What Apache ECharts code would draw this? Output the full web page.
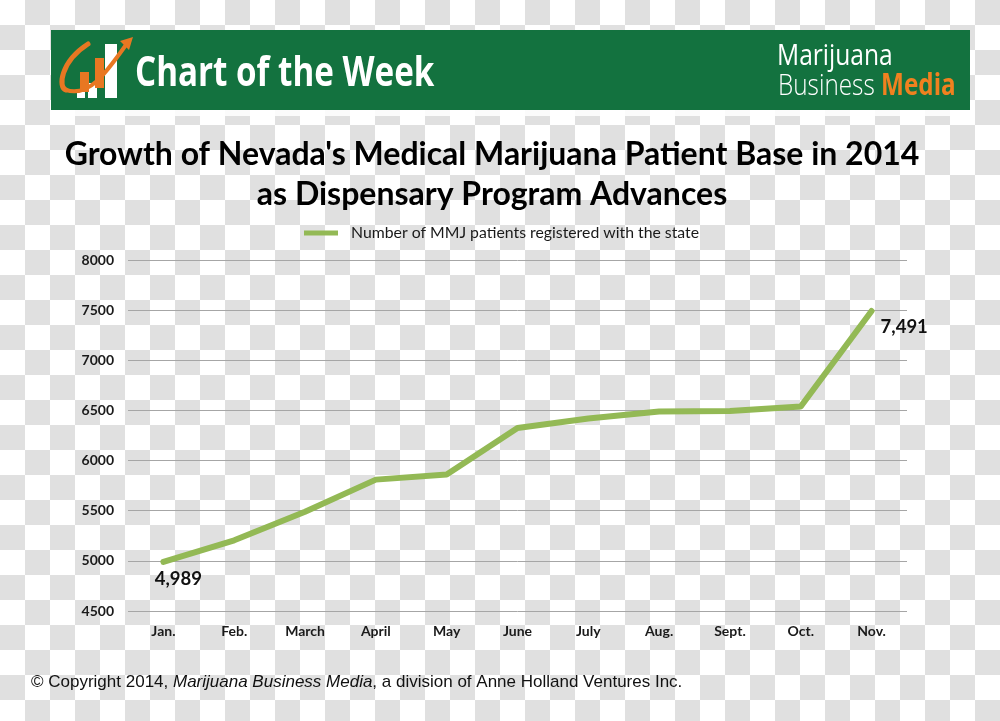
<!DOCTYPE html>
<html>
<head>
<meta charset="utf-8">
<script src="https://cdn.jsdelivr.net/npm/echarts@6/dist/echarts.min.js"></script>
<style>
html,body{margin:0;padding:0;}
body{width:1000px;height:721px;background:repeating-conic-gradient(#e0e0e0 0 25%, #ffffff 0 50%) 0 0/50px 50px;}
#chart{width:1000px;height:721px;}
</style>
</head>
<body>
<div id="chart"></div>
<script>
var months = ['Jan.', 'Feb.', 'March', 'April', 'May', 'June', 'July', 'Aug.', 'Sept.', 'Oct.', 'Nov.'];
var patients = [4989, 5205, 5490, 5810, 5860, 6325, 6420, 6490, 6495, 6540, 7491];
var yTicks = [4500, 5000, 5500, 6000, 6500, 7000, 7500, 8000];
var seriesName = 'Number of MMJ patients registered with the state';
var titleLines = ["Growth of Nevada's Medical Marijuana Patient Base in 2014", 'as Dispensary Program Advances'];

var chart = echarts.init(document.getElementById('chart'));
var green = '#93b955';
var lastIdx = patients.length - 1;

var dataPoints = patients.map(function (v, i) {
  var p = { value: v, label: { show: false } };
  if (i === 0) {
    p.label = { show: true, position: 'bottom', distance: 7, offset: [15, 0] };
  } else if (i === lastIdx) {
    p.label = { show: true, position: 'right', distance: 8, offset: [0, 16] };
  }
  return p;
});

chart.setOption({
  backgroundColor: 'transparent',
  animation: false,
  grid: { left: 128, right: 93, top: 260, bottom: 110, containLabel: false },
  legend: {
    left: 299, top: 220,
    icon: 'rect', itemWidth: 34, itemHeight: 5,
    itemStyle: { color: green, opacity: 1 },
    textStyle: { fontFamily: 'Lato', fontSize: 15.8, color: '#1a1a1a', padding: [0, 0, 0, 8] },
    data: [{ name: seriesName, itemStyle: { color: green, opacity: 1 } }]
  },
  xAxis: {
    type: 'category', data: months, boundaryGap: true,
    axisLine: { show: false }, axisTick: { show: false },
    axisLabel: { fontFamily: 'Lato', fontWeight: 'bold', fontSize: 14, color: '#1a1a1a', margin: 13 }
  },
  yAxis: {
    type: 'value', min: yTicks[0], max: yTicks[yTicks.length - 1], interval: 500,
    axisLine: { show: false }, axisTick: { show: false },
    axisLabel: { fontFamily: 'Lato', fontWeight: 'bold', fontSize: 14, color: '#1a1a1a', margin: 14,
      formatter: function (v) { return String(v); } },
    splitLine: { lineStyle: { color: '#a6a6a6', width: 1 } }
  },
  series: [{
    name: seriesName, type: 'line', data: dataPoints,
    symbol: 'circle', symbolSize: 2, showSymbol: true,
    lineStyle: { color: green, width: 6, join: 'round', cap: 'round' },
    itemStyle: { color: green },
    label: {
      fontFamily: 'Lato', fontWeight: 'bold', fontSize: 18.5, color: '#111',
      formatter: function (p) { return p.value.toLocaleString('en-US'); }
    }
  }],
  graphic: [
    { type: 'rect', shape: { x: 60, y: 108, width: 900, height: 8 }, style: { fill: '#ffffff', opacity: 0.85 }, z: 1 },
    { type: 'rect', shape: { x: 51, y: 30, width: 919, height: 80 }, style: { fill: '#13723f' }, z: 2 },
    { type: 'rect', shape: { x: 77, y: 92, width: 8, height: 6 }, style: { fill: '#ffffff' }, z: 3 },
    { type: 'rect', shape: { x: 88, y: 83, width: 9, height: 15 }, style: { fill: '#ffffff' }, z: 3 },
    { type: 'rect', shape: { x: 105, y: 44, width: 12, height: 54 }, style: { fill: '#ffffff' }, z: 3 },
    { type: 'bezierCurve', shape: { x1: 88, y1: 44, x2: 66, y2: 90, cpx1: 60, cpy1: 62, cpx2: 58, cpy2: 88 }, style: { stroke: '#e87722', lineWidth: 5, fill: null, lineCap: 'round' }, z: 4 },
    { type: 'bezierCurve', shape: { x1: 66, y1: 90, x2: 128, y2: 42, cpx1: 90, cpy1: 98, cpx2: 108, cpy2: 70 }, style: { stroke: '#e87722', lineWidth: 4, fill: null, lineCap: 'round' }, z: 4 },
    { type: 'rect', shape: { x: 80, y: 72, width: 9, height: 20 }, style: { fill: '#e87722' }, z: 4 },
    { type: 'rect', shape: { x: 95, y: 58, width: 9, height: 30 }, style: { fill: '#e87722' }, z: 4 },
    { type: 'polygon', shape: { points: [[133, 37], [120, 41], [129, 50]] }, style: { fill: '#e87722' }, z: 4 },
    { type: 'text', x: 135, y: 74, scaleX: 0.79, style: { text: 'Chart of the Week', font: 'bold 42px "Open Sans"', fill: '#ffffff', textVerticalAlign: 'middle' }, z: 5 },
    { type: 'text', x: 777, y: 56, scaleX: 0.82, style: { text: 'Marijuana', font: '30px "Open Sans"', fill: '#ffffff', textVerticalAlign: 'middle' }, z: 5 },
    { type: 'text', x: 778, y: 86, scaleX: 0.81, style: { text: '{a|Business }{b|Media}', rich: { a: { fontFamily: 'Open Sans', fontSize: 30, fontWeight: 300, fill: '#ffffff' }, b: { fontFamily: 'Open Sans', fontSize: 30, fontWeight: 'bold', fill: '#f0811f' } }, textVerticalAlign: 'middle' }, z: 5 },
    { type: 'text', x: 492, y: 155, style: { text: titleLines[0], font: 'bold 32px Lato', fill: '#000000', textAlign: 'center', textVerticalAlign: 'middle' }, z: 5 },
    { type: 'text', x: 492, y: 195, style: { text: titleLines[1], font: 'bold 32px Lato', fill: '#000000', textAlign: 'center', textVerticalAlign: 'middle' }, z: 5 },
    { type: 'text', x: 31, y: 682, style: { text: '{r|© Copyright 2014, }{i|Marijuana Business Media}{r|, a division of Anne Holland Ventures Inc.}', rich: { r: { fontFamily: 'Liberation Sans', fontSize: 17, fill: '#111111' }, i: { fontFamily: 'Liberation Sans', fontSize: 17, fontStyle: 'italic', fill: '#111111' } }, textVerticalAlign: 'middle' }, z: 5 }
  ]
});
</script>
</body>
</html>
